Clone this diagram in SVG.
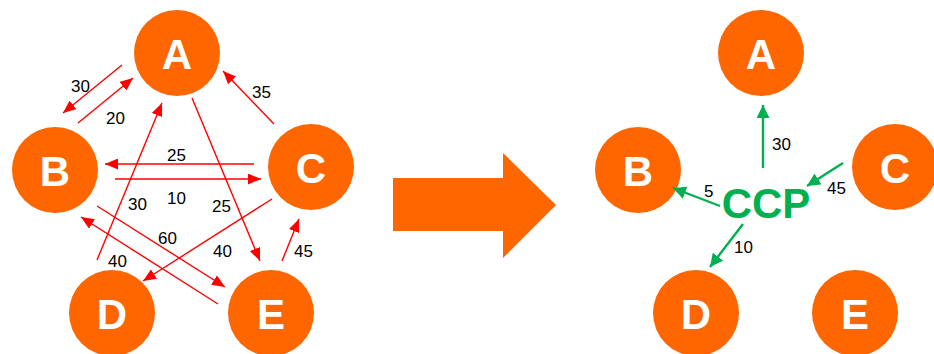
<svg xmlns="http://www.w3.org/2000/svg" width="934" height="354" viewBox="0 0 934 354">
<defs>
<style>
.node circle{fill:#FF6600}
.node text{fill:#fff;font-family:"Liberation Sans",Arial,sans-serif;font-weight:bold;font-size:42px;text-anchor:middle}
.red{stroke:#FF0000;stroke-width:1.4;fill:none;marker-end:url(#rh)}
.grn{stroke:#00B050;stroke-width:2.4;fill:none;marker-end:url(#gh)}
.lbl{font-family:"Liberation Sans",Arial,sans-serif;font-size:17px;fill:#000}
</style>
<marker id="rh" markerUnits="userSpaceOnUse" markerWidth="13" markerHeight="11" refX="13" refY="5.5" orient="auto"><path d="M0,0 L13,5.5 L0,11 z" fill="#FF0000"/></marker>
<marker id="gh" markerUnits="userSpaceOnUse" markerWidth="13" markerHeight="13" refX="13" refY="6.5" orient="auto"><path d="M0,0 L13,6.5 L0,13 z" fill="#00B050"/></marker>
</defs>
<rect width="934" height="354" fill="#fff"/>
<g id="left-A" class="node"><circle cx="177" cy="53" r="43"/><text x="177" y="69">A</text></g>
<g id="left-B" class="node"><circle cx="55" cy="170" r="43"/><text x="55" y="186">B</text></g>
<g id="left-C" class="node"><circle cx="311" cy="167" r="43"/><text x="311" y="183">C</text></g>
<g id="left-D" class="node"><circle cx="112" cy="313" r="43"/><text x="112" y="329">D</text></g>
<g id="left-E" class="node"><circle cx="271" cy="313" r="43"/><text x="271" y="329">E</text></g>
<g id="right-A" class="node"><circle cx="761" cy="53" r="43"/><text x="761" y="69">A</text></g>
<g id="right-B" class="node"><circle cx="638" cy="170" r="43"/><text x="638" y="186">B</text></g>
<g id="right-C" class="node"><circle cx="895" cy="167" r="43"/><text x="895" y="183">C</text></g>
<g id="right-D" class="node"><circle cx="696" cy="313" r="43"/><text x="696" y="329">D</text></g>
<g id="right-E" class="node"><circle cx="855" cy="313" r="43"/><text x="855" y="329">E</text></g>
<g id="ccp"><text x="766" y="218" font-family="'Liberation Sans',Arial,sans-serif" font-weight="bold" font-size="42" fill="#00B050" text-anchor="middle">CCP</text></g>
<g id="big-arrow"><polygon points="393,178 503,178 503,153 556,205 503,258 503,231 393,231" fill="#FF6600"/></g>
<g id="connectors">
<line class="red" x1="122" y1="65" x2="63" y2="113"/>
<line class="red" x1="78" y1="123" x2="133" y2="78"/>
<line class="red" x1="274" y1="124" x2="223" y2="71"/>
<line class="red" x1="254" y1="164" x2="105" y2="164"/>
<line class="red" x1="115" y1="179" x2="261" y2="179"/>
<line class="red" x1="97" y1="260" x2="162" y2="103"/>
<line class="red" x1="192" y1="98" x2="260" y2="261"/>
<line class="red" x1="272" y1="199" x2="143" y2="281"/>
<line class="red" x1="97" y1="206" x2="225" y2="287"/>
<line class="red" x1="218" y1="304" x2="81" y2="217"/>
<line class="red" x1="282" y1="261" x2="299" y2="219"/>
<line class="grn" x1="763" y1="168" x2="763" y2="105"/>
<line class="grn" x1="843" y1="163" x2="807" y2="186"/>
<line class="grn" x1="720" y1="206" x2="673" y2="188"/>
<line class="grn" x1="743" y1="224" x2="710" y2="267"/>
</g>
<g id="labels">
<text class="lbl" x="71" y="92">30</text>
<text class="lbl" x="106" y="124">20</text>
<text class="lbl" x="252" y="98">35</text>
<text class="lbl" x="167" y="161">25</text>
<text class="lbl" x="167" y="204">10</text>
<text class="lbl" x="128" y="210">30</text>
<text class="lbl" x="212" y="212">25</text>
<text class="lbl" x="213" y="257">40</text>
<text class="lbl" x="158" y="244">60</text>
<text class="lbl" x="108" y="267">40</text>
<text class="lbl" x="294" y="257">45</text>
<text class="lbl" x="772" y="150">30</text>
<text class="lbl" x="827" y="194">45</text>
<text class="lbl" x="704" y="197">5</text>
<text class="lbl" x="734" y="253">10</text>
</g>
</svg>
